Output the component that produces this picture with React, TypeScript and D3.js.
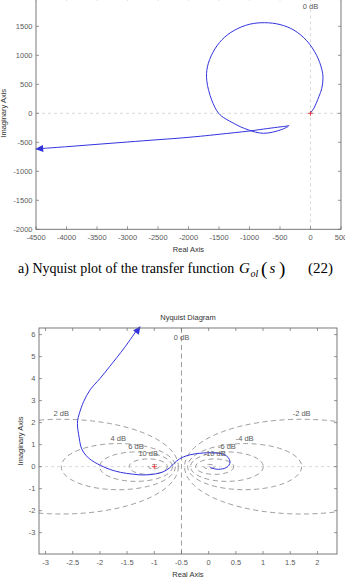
import { curveCatmullRom, line, scaleLinear } from "d3";

// tick values
const topXTicks = [-4500, -4000, -3500, -3000, -2500, -2000, -1500, -1000, -500, 0, 500];
const topYTicks = [-2000, -1500, -1000, -500, 0, 500, 1000, 1500];
const bottomXTicks = [-3, -2.5, -2, -1.5, -1, -0.5, 0, 0.5, 1, 1.5, 2];
const bottomYTicks = [-3, -2, -1, 0, 1, 2, 3, 4, 5, 6];

// constant-gain (M-circle) grid levels, dB
const gridDb = [-20, -10, -6, -4, -2, 2, 4, 6, 10, 20];
const labelledDb = [-10, -6, -4, -2, 2, 4, 6, 10];

// Nyquist curve of G_ol(s), [Re, Im], starting at the arrow end
const topNyquist: [number, number][] = [
  [-4495, -614], [-4000, -576], [-3500, -535], [-3000, -495], [-2500, -455],
  [-2189, -431], [-1800, -395], [-1500, -362], [-1000, -305], [-700, -262],
  [-500, -235], [-400, -222], [-356, -213], [-372, -230], [-470, -278],
  [-620, -325], [-767, -345], [-900, -325], [-1013, -288], [-1150, -232],
  [-1260, -172], [-1400, -90], [-1506, 0], [-1620, 230], [-1700, 560],
  [-1690, 800], [-1600, 1050], [-1450, 1270], [-1250, 1430], [-1000, 1535],
  [-750, 1562], [-500, 1530], [-272, 1434], [-60, 1250], [100, 1000],
  [185, 760], [205, 620], [185, 430], [137, 286], [55, 86], [12, 22], [-3, 0],
];
const topArrowAt: [number, number] = [-4440, -610];

// Nyquist curve of the second diagram, [Re, Im], starting at the arrow end
const bottomNyquist: [number, number][] = [
  [-1.32, 6.21], [-1.55, 5.4], [-1.82, 4.55], [-2.0, 4.0], [-2.18, 3.49],
  [-2.3, 2.95], [-2.38, 2.4], [-2.41, 2.1], [-2.41, 1.8], [-2.39, 1.45],
  [-2.34, 0.84], [-2.26, 0.52], [-2.15, 0.28], [-1.94, 0.0], [-1.8, -0.14],
  [-1.62, -0.26], [-1.4, -0.34], [-1.2, -0.38], [-0.98, -0.33], [-0.84, -0.24],
  [-0.72, -0.06], [-0.64, 0.14], [-0.53, 0.36], [-0.4, 0.5], [-0.25, 0.58],
  [-0.1, 0.62], [0.05, 0.63], [0.21, 0.6], [0.33, 0.48], [0.38, 0.33],
  [0.39, 0.15], [0.35, 0.0], [0.29, -0.08], [0.15, -0.12], [0.06, -0.06],
  [0.02, -0.01],
];
const bottomArrowAt: [number, number] = [-1.3, 6.22];

const criticalPoint: [number, number] = [-1, 0];

const FONT = "'Liberation Sans', Arial, Helvetica, sans-serif";
const SERIF = "'Liberation Serif', 'Times New Roman', serif";
const CURVE = "#3333dd";
const AXIS = "#6a6a6a";
const TEXT = "#5a5a5a";
const FS = 7.5;

interface PanelProps {
  id: string;
  box: { l: number; r: number; t: number; b: number };
  xDomain: [number, number];
  yDomain: [number, number];
  xTicks: number[];
  yTicks: number[];
  data: [number, number][];
  arrowAt: [number, number];
  circles: boolean;
  title?: string;
  yLabelX: number;
}

const Panel = ({ id, box, xDomain, yDomain, xTicks, yTicks, data, arrowAt, circles, title, yLabelX }: PanelProps) => {
  const x = scaleLinear().domain(xDomain).range([box.l, box.r]);
  const y = scaleLinear().domain(yDomain).range([box.b, box.t]);
  const kx = x(1) - x(0);
  const ky = y(0) - y(1);

  const path =
    line<[number, number]>()
      .x((d) => x(d[0]))
      .y((d) => y(d[1]))
      .curve(curveCatmullRom.alpha(0.5))(data) ?? "";

  // arrow head pointing from the 2nd point toward the first
  const ax = x(arrowAt[0]);
  const ay = y(arrowAt[1]);
  const ang = (Math.atan2(y(data[0][1]) - y(data[1][1]), x(data[0][0]) - x(data[1][0])) * 180) / Math.PI;

  const mCircles = gridDb.map((db) => {
    const m = Math.pow(10, db / 20);
    const c = -(m * m) / (m * m - 1);
    const r = Math.abs(m / (m * m - 1));
    return { db, c, r };
  });

  const cx = (box.l + box.r) / 2;
  const cy = (box.t + box.b) / 2;
  const tick = 3;

  return (
    <g fontFamily={FONT}>
      <defs>
        <clipPath id={id}>
          <rect x={box.l} y={box.t} width={box.r - box.l} height={box.b - box.t} />
        </clipPath>
      </defs>

      {title && (
        <text x={cx} y={box.t - 8} textAnchor="middle" fontSize={FS} fill="#333">
          {title}
        </text>
      )}

      <g clipPath={`url(#${id})`}>
        <line x1={box.l} x2={box.r} y1={y(0)} y2={y(0)} stroke="#cfcfcf" strokeWidth={0.8} strokeDasharray="3,3" />
        <line
          x1={x(-0.5)}
          x2={x(-0.5)}
          y1={box.t}
          y2={box.b}
          stroke={circles ? "#858585" : "#cfcfcf"}
          strokeWidth={0.8}
          strokeDasharray={circles ? "5,3.5" : "3,3"}
        />
        {circles &&
          mCircles.map(({ db, c, r }) => (
            <ellipse
              key={db}
              cx={x(c)}
              cy={y(0)}
              rx={r * kx}
              ry={r * ky}
              fill="none"
              stroke="#858585"
              strokeWidth={0.8}
              strokeDasharray="5,3.5"
            />
          ))}
        <path d={path} fill="none" stroke={CURVE} strokeWidth={1} />
      </g>

      {circles &&
        mCircles
          .filter((d) => labelledDb.includes(d.db))
          .map(({ db, c, r }) => (
            <text key={db} x={x(c)} y={y(r) - 3} textAnchor="middle" fontSize={FS} fill={TEXT}>
              {`${db} dB`}
            </text>
          ))}
      <text x={x(-0.5)} y={box.t + 12} textAnchor="middle" fontSize={FS} fill={TEXT}>
        0 dB
      </text>

      <path d="M4.5,0 L-3.5,-3.5 L-3.5,3.5 Z" fill={CURVE} transform={`translate(${ax},${ay}) rotate(${ang})`} />

      <g stroke="#e23232" strokeWidth={0.9}>
        <line x1={x(criticalPoint[0]) - 2.5} x2={x(criticalPoint[0]) + 2.5} y1={y(criticalPoint[1])} y2={y(criticalPoint[1])} />
        <line x1={x(criticalPoint[0])} x2={x(criticalPoint[0])} y1={y(criticalPoint[1]) - 2.5} y2={y(criticalPoint[1]) + 2.5} />
      </g>

      <rect x={box.l} y={box.t} width={box.r - box.l} height={box.b - box.t} fill="none" stroke={AXIS} strokeWidth={0.9} />

      {xTicks.map((t) => (
        <g key={`x${t}`}>
          <line x1={x(t)} x2={x(t)} y1={box.b} y2={box.b - tick} stroke={AXIS} strokeWidth={0.7} />
          <line x1={x(t)} x2={x(t)} y1={box.t} y2={box.t + tick} stroke={AXIS} strokeWidth={0.7} />
          <text x={x(t)} y={box.b + 10.5} textAnchor="middle" fontSize={FS} fill={TEXT}>
            {String(t)}
          </text>
        </g>
      ))}
      {yTicks.map((t) => (
        <g key={`y${t}`}>
          <line x1={box.l} x2={box.l + tick} y1={y(t)} y2={y(t)} stroke={AXIS} strokeWidth={0.7} />
          <line x1={box.r} x2={box.r - tick} y1={y(t)} y2={y(t)} stroke={AXIS} strokeWidth={0.7} />
          <text x={box.l - 3.5} y={y(t) + 2.7} textAnchor="end" fontSize={FS} fill={TEXT}>
            {String(t)}
          </text>
        </g>
      ))}

      <text x={cx} y={box.b + 23} textAnchor="middle" fontSize={FS} fill="#333">
        Real Axis
      </text>
      <text transform={`translate(${yLabelX},${cy}) rotate(-90)`} textAnchor="middle" fontSize={FS} fill="#333">
        Imaginary Axis
      </text>
    </g>
  );
};

export default function App() {
  return (
    <div style={{ position: "absolute", left: 0, top: 0 }}>
      <svg width={345} height={585} viewBox="0 0 345 585" style={{ display: "block", background: "#fff" }}>
        <Panel
          id="clipTop"
          box={{ l: 36, r: 341, t: -2.7, b: 229.3 }}
          xDomain={[-4500, 500]}
          yDomain={[-2000, 2000]}
          xTicks={topXTicks}
          yTicks={topYTicks}
          data={topNyquist}
          arrowAt={topArrowAt}
          circles={false}
          yLabelX={6}
        />

        <g fontFamily={SERIF} fill="#000" fontSize={14}>
          <text x={18} y={273}>a) Nyquist plot of the transfer function</text>
          <text x={239} y={273} fontStyle="italic" fontSize={15}>G</text>
          <text x={250.5} y={276.5} fontStyle="italic" fontSize={10}>ol</text>
          <text x={261} y={275} fontSize={19}>(</text>
          <text x={269.5} y={273} fontStyle="italic" fontSize={15}>s</text>
          <text x={279} y={275} fontSize={19}>)</text>
          <text x={333} y={273} textAnchor="end" fontSize={15}>(22)</text>
        </g>

        <Panel
          id="clipBottom"
          box={{ l: 39, r: 337, t: 328, b: 554 }}
          xDomain={[-3.12, 2.36]}
          yDomain={[-3.97, 6.3]}
          xTicks={bottomXTicks}
          yTicks={bottomYTicks}
          data={bottomNyquist}
          arrowAt={bottomArrowAt}
          circles={true}
          title="Nyquist Diagram"
          yLabelX={22.5}
        />
      </svg>
    </div>
  );
}
